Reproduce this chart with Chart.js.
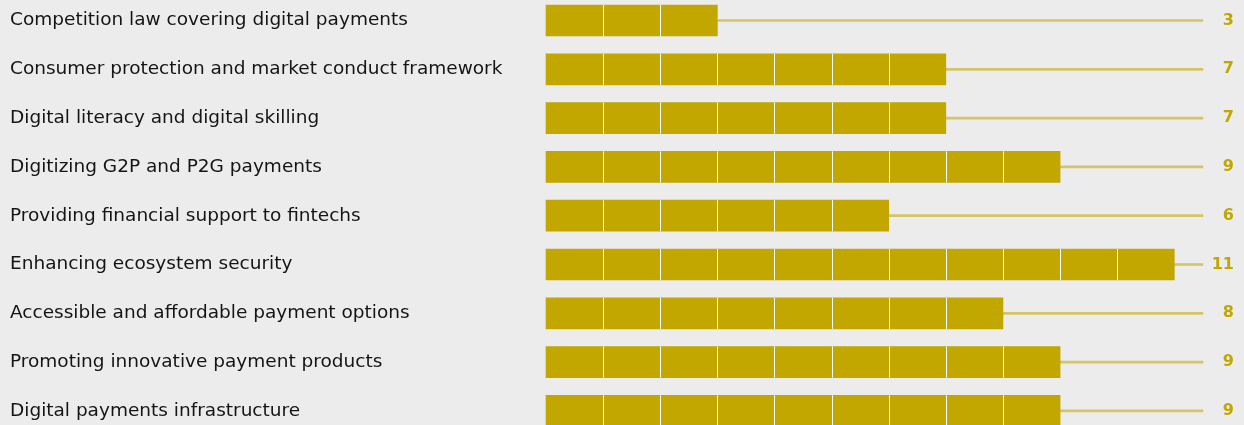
<!DOCTYPE html>
<html>
<head>
<meta charset="utf-8">
<script src="https://cdn.jsdelivr.net/npm/chart.js@4"></script>
<style>
    html, body { margin: 0; padding: 0; background: #ececec; }
    #wrap { position: relative; width: 1244px; height: 425px; }
</style>
</head>
<body>
<div id="wrap"><canvas id="chart"></canvas></div>
<script>
const categories = [
    'Competition law covering digital payments',
    'Consumer protection and market conduct framework',
    'Digital literacy and digital skilling',
    'Digitizing G2P and P2G payments',
    'Providing financial support to fintechs',
    'Enhancing ecosystem security',
    'Accessible and affordable payment options',
    'Promoting innovative payment products',
    'Digital payments infrastructure',
];
const counts = [3, 7, 7, 9, 6, 11, 8, 9, 9];

const COLORS = {
    gold: '#c1a700',
    leader: '#d6c466',
    text: '#151515',
    sep: '#ffffff',
};

const LEADER_END = 11.5;  // where the thin leader lines stop (x units)

// white unit separators inside each bar + value labels at the right
const barDecor = {
    id: 'barDecor',
    afterDatasetsDraw(chart) {
        const ctx = chart.ctx;
        const x = chart.scales.x;
        const meta = chart.getDatasetMeta(1);
        ctx.save();
        ctx.strokeStyle = COLORS.sep;
        ctx.lineWidth = 1;
        meta.data.forEach((bar, i) => {
            const h = bar.height;
            for (let k = 1; k < counts[i]; k++) {
                const px = Math.round(x.getPixelForValue(k)) + 0.5;
                ctx.beginPath();
                ctx.moveTo(px, bar.y - h / 2);
                ctx.lineTo(px, bar.y + h / 2);
                ctx.stroke();
            }
            ctx.fillStyle = COLORS.gold;
            ctx.font = "bold 16px 'DejaVu Sans', sans-serif";
            ctx.textAlign = 'right';
            ctx.textBaseline = 'middle';
            ctx.fillText(String(counts[i]), chart.chartArea.right - 10, bar.y);
        });
        ctx.restore();
    },
};

new Chart(document.getElementById('chart'), {
    type: 'bar',
    data: {
        labels: categories,
        datasets: [
            {
                label: 'leader',
                data: counts.map(v => [v, LEADER_END]),
                backgroundColor: COLORS.leader,
                barThickness: 2,
                grouped: false,
                clip: false,
                order: 2,
            },
            {
                label: 'Count',
                data: counts,
                backgroundColor: COLORS.gold,
                barThickness: 31,
                grouped: false,
                clip: false,
                order: 1,
            },
        ],
    },
    options: {
        indexAxis: 'y',
        responsive: true,
        maintainAspectRatio: false,
        animation: false,
        layout: { padding: { left: 10, top: 20.5, bottom: 10.5, right: 0 } },
        scales: {
            x: {
                display: false,
                min: 0,
                max: 12.22,
            },
            y: {
                offset: false,
                afterFit: s => { s.width = 536; },
                grid: { display: false },
                border: { display: false },
                ticks: {
                    crossAlign: 'far',
                    autoSkip: false,
                    color: COLORS.text,
                    font: { family: "'DejaVu Sans', sans-serif", size: 18.5 },
                },
            },
        },
        plugins: {
            legend: { display: false },
            tooltip: { enabled: false },
        },
    },
    plugins: [barDecor],
});
</script>
</body>
</html>
